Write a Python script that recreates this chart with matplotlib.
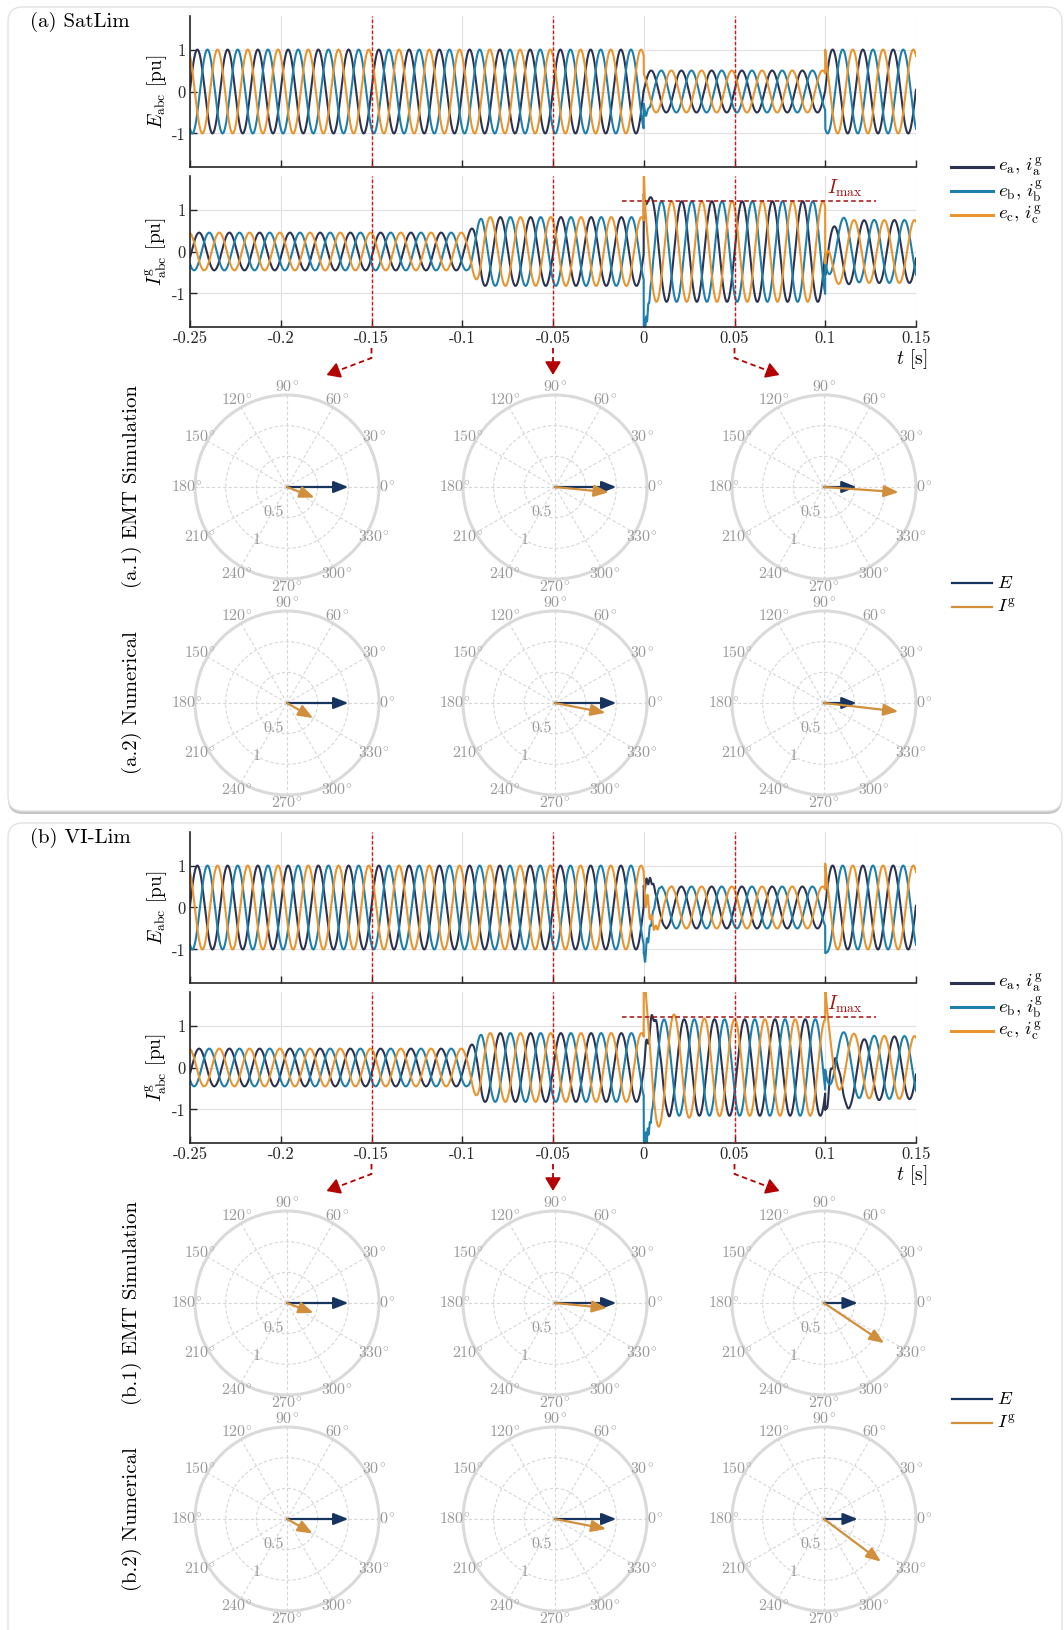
import numpy as np
import matplotlib
matplotlib.use('Agg')
import matplotlib.pyplot as plt
from matplotlib.patches import FancyBboxPatch, FancyArrowPatch
from matplotlib.lines import Line2D

plt.rcParams['font.family'] = ['cmr10', 'DejaVu Serif']
plt.rcParams['mathtext.fontset'] = 'cm'
plt.rcParams['axes.unicode_minus'] = False
plt.rcParams['axes.formatter.use_mathtext'] = False

W, H = 1064, 1630

# ---- signal data (60 Hz three-phase, amplitude / angle per segment) ----
F_HZ = 60
T_REF = -0.0015
PHASE_OFF = [-120, 120, 0]          # a, b, c
WAVE_COLORS = ['#2c3350', '#1f7fab', '#e8942f']
WAVE_LABELS = [r'$e_\mathrm{a},\,i_\mathrm{a}^\mathrm{g}$',
               r'$e_\mathrm{b},\,i_\mathrm{b}^\mathrm{g}$',
               r'$e_\mathrm{c},\,i_\mathrm{c}^\mathrm{g}$']

# panel (a) SatLim
A_E_EDGES = [-0.25, 0.0, 0.1, 0.15]
A_E_AMP = [1.0, 0.5, 1.0]
A_E_ANG = [0, 0, 0]
A_E_RAMP = [0, 0]
A_E_TRANS = [[],
             [(0.0, 0.15, 0.002, 400, 0)],
             [(0.1, 0.15, 0.0005, 0, 0)]]
A_I_EDGES = [-0.25, -0.097, 0.0, 0.1, 0.15]
A_I_AMP = [0.45, 0.82, 1.2, 0.75]
A_I_ANG = [-21, -6, -4, -15]
A_I_RAMP = [0.008, 0, 0]
A_I_TRANS = [[(0.0, 1.4, 0.0015, 0, 0), (0.1, -0.4, 0.005, 0, 0)],
             [(0.0, -1.2, 0.0015, 0, 0), (0.0, 0.3, 0.002, 800, 0), (0.1, 0.3, 0.006, 0, 0)],
             [(0.0, 1.0, 0.0006, 0, 0), (0.1, -1.0, 0.002, 0, 0)]]

# panel (b) VI-Lim
B_E_EDGES = [-0.25, 0.0, 0.1, 0.15]
B_E_AMP = [1.0, 0.5, 1.0]
B_E_ANG = [0, 0, 0]
B_E_RAMP = [0, 0]
B_E_TRANS = [[(0.0, 0.5, 0.003, 0, 0), (0.0, 0.15, 0.004, 500, 90)],
             [(0.0, -0.9, 0.002, 0, 0), (0.0, 0.25, 0.003, 600, 0), (0.1, -0.2, 0.001, 0, 0)],
             [(0.0, 0.35, 0.004, 450, 0), (0.1, 0.2, 0.0006, 0, 0)]]
B_I_EDGES = [-0.25, -0.097, 0.0, 0.1, 0.15]
B_I_AMP = [0.45, 0.82, 1.15, 0.75]
B_I_ANG = [-21, -5.5, -34, -15]
B_I_RAMP = [0.008, 0, 0]
B_I_TRANS = [[(0.0, 0.9, 0.002, 0, 0), (0.0, -0.3, 0.005, 350, 0),
              (0.1, -1.1, 0.008, 0, 0), (0.1, 0.25, 0.004, 350, 0)],
             [(0.0, -1.6, 0.0018, 0, 0), (0.0, 0.4, 0.002, 900, 0), (0.1, 0.5, 0.006, 0, 0)],
             [(0.0, 0.9, 0.0008, 0, 0), (0.0, 0.6, 0.01, 60, 0),
              (0.1, 0.5, 0.0008, 0, 0), (0.1, 0.8, 0.006, 0, 0)]]

TIME_TICKS = [-0.25, -0.2, -0.15, -0.1, -0.05, 0, 0.05, 0.1, 0.15]
TIME_TICK_LABELS = ['-0.25', '-0.2', '-0.15', '-0.1', '-0.05', '0', '0.05', '0.1', '0.15']
Y_TICKS = [-1, 0, 1]
Y_TICK_LABELS = ['-1', '0', '1']
MARK_TIMES = [-0.15, -0.05, 0.05]
I_MAX = 1.2

# ---- phasor data (E at 0 deg, I^g magnitude / angle) ----
A1_E = [1.0, 1.0, 0.53]
A1_I = [0.48, 0.88, 1.22]
A1_ANG = [-21, -5.7, -4]
A2_E = [1.0, 1.0, 0.53]
A2_I = [0.49, 0.84, 1.22]
A2_ANG = [-30, -11, -6.5]
B1_E = [1.0, 1.0, 0.55]
B1_I = [0.46, 0.85, 1.18]
B1_ANG = [-20.5, -5.5, -33.7]
B2_E = [1.0, 1.0, 0.55]
B2_I = [0.48, 0.85, 1.16]
B2_ANG = [-29.5, -11, -36.8]
THETA_DEGS = list(range(0, 360, 30))
R_TICKS = [0.5, 1.0]
R_TICK_LABELS = ['0.5', '1']

E_COLOR = '#17335f'
I_COLOR = '#d18f3c'
RED = '#c81818'
DARKRED = '#a51010'
GRAYTXT = '#999999'


def three_phase(t, edges, amps, angs, ramps, trans):
    amp = np.full_like(t, amps[0])
    ang = np.full_like(t, float(angs[0]))
    for k in range(1, len(amps)):
        e = edges[k]
        r = ramps[k - 1]
        if r > 0:
            w = np.clip((t - e) / r, 0, 1)
        else:
            w = (t >= e).astype(float)
        amp += w * (amps[k] - amps[k - 1])
        ang += w * (angs[k] - angs[k - 1])
    theta = 2 * np.pi * F_HZ * (t - T_REF) + np.deg2rad(ang)
    out = []
    for p, off in enumerate(PHASE_OFF):
        y = amp * np.cos(theta + np.deg2rad(off))
        for (t0, a0, tau, f, ph) in trans[p]:
            m = t >= t0
            dt = t[m] - t0
            y[m] += a0 * np.exp(-dt / tau) * np.cos(2 * np.pi * f * dt + np.deg2rad(ph))
        out.append(y)
    return out


def rect(x0, y0, x1, y1):
    return [x0 / W, 1 - y1 / H, (x1 - x0) / W, (y1 - y0) / H]


def P(x, y):
    # pixel (from top-left) -> inches for dpi_scale_trans
    return (x / 100.0, (H - y) / 100.0)


fig = plt.figure(figsize=(W / 100, H / 100), dpi=100)
fig.patch.set_facecolor('white')
inch = fig.dpi_scale_trans

# panel boxes
for (y0, y1) in [(7, 811), (823, 1660)]:
    sh = FancyBboxPatch(P(8, y1 + 3), (1054) / 100, (y1 - y0) / 100,
                        boxstyle='round,pad=0,rounding_size=0.15',
                        transform=inch, fc='#c4c4c4', ec='none', zorder=0)
    bx = FancyBboxPatch(P(8, y1), (1054) / 100, (y1 - y0) / 100,
                        boxstyle='round,pad=0,rounding_size=0.15',
                        transform=inch, fc='white', ec='#e2e2e2', lw=1, zorder=0)
    fig.add_artist(sh)
    fig.add_artist(bx)

t = np.linspace(-0.25, 0.15, 8001)

AX_L, AX_R = 190, 916

panels = [
    dict(off=0, title='(a) SatLim', tag='a',
         E=(A_E_EDGES, A_E_AMP, A_E_ANG, A_E_RAMP, A_E_TRANS),
         I=(A_I_EDGES, A_I_AMP, A_I_ANG, A_I_RAMP, A_I_TRANS),
         rows=[(A1_E, A1_I, A1_ANG), (A2_E, A2_I, A2_ANG)]),
    dict(off=816, title='(b) VI-Lim', tag='b',
         E=(B_E_EDGES, B_E_AMP, B_E_ANG, B_E_RAMP, B_E_TRANS),
         I=(B_I_EDGES, B_I_AMP, B_I_ANG, B_I_RAMP, B_I_TRANS),
         rows=[(B1_E, B1_I, B1_ANG), (B2_E, B2_I, B2_ANG)]),
]

ROW_NAMES = ['EMT Simulation', 'Numerical']
POLAR_X = [287, 555, 824]
POLAR_Y = [487, 703]
R_PX = 92


def t_to_px(tv):
    return AX_L + (tv - TIME_TICKS[0]) / (TIME_TICKS[-1] - TIME_TICKS[0]) * (AX_R - AX_L)


def style_time_ax(ax, show_labels):
    ax.set_xlim(TIME_TICKS[0], TIME_TICKS[-1])
    ax.set_ylim(-1.8, 1.8)
    ax.set_xticks(TIME_TICKS)
    ax.set_yticks(Y_TICKS)
    ax.set_yticklabels(Y_TICK_LABELS)
    if show_labels:
        ax.set_xticklabels(TIME_TICK_LABELS)
    else:
        ax.set_xticklabels([])
    ax.grid(True, color='#e2e2e2', lw=0.9)
    ax.set_axisbelow(True)
    for s in ['top', 'right']:
        ax.spines[s].set_visible(False)
    for s in ['left', 'bottom']:
        ax.spines[s].set_color('#262626')
        ax.spines[s].set_linewidth(1.2)
    ax.tick_params(direction='in', length=5, width=1, pad=3, labelsize=12, colors='#262626')
    for tm in MARK_TIMES:
        ax.axvline(tm, color=RED, lw=1.0, ls=(0, (2.5, 1.5)), zorder=3)


def style_polar(pax):
    pax.set_facecolor('none')
    pax.set_ylim(0, 1.5)
    pax.set_yticks(R_TICKS)
    pax.set_yticklabels([])
    pax.set_xticks(np.deg2rad(THETA_DEGS))
    pax.set_xticklabels([r'$%d^{\!\circ}$' % d for d in THETA_DEGS])
    pax.grid(True, color='#d6d6d6', lw=0.8, ls=(0, (3, 2)))
    pax.spines['polar'].set_color('#dadada')
    pax.spines['polar'].set_linewidth(2.2)
    pax.spines['polar'].set_zorder(0.5)
    pax.tick_params(axis='x', labelsize=11.5, labelcolor=GRAYTXT, length=0, pad=-1)
    pax.tick_params(axis='y', length=0)
    # radial tick labels along ~240 deg
    for rv, lab, ang, rr in zip(R_TICKS, R_TICK_LABELS, [242, 240], [0.46, 1.0]):
        pax.text(np.deg2rad(ang), rr, lab, fontsize=11.5,
                 color=GRAYTXT, ha='center', va='center')


for pn in panels:
    o = pn['off']
    fig.text(*P(30, 22 + o), pn['title'], transform=inch, fontsize=15, va='center', ha='left')

    ax1 = fig.add_axes(rect(AX_L, 16 + o, AX_R, 167 + o))
    ax2 = fig.add_axes(rect(AX_L, 176 + o, AX_R, 327 + o))
    ee = three_phase(t, *pn['E'])
    ii = three_phase(t, *pn['I'])
    for k in range(3):
        ax1.plot(t, ee[k], color=WAVE_COLORS[k], lw=1.5, zorder=2)
        ax2.plot(t, ii[k], color=WAVE_COLORS[k], lw=1.5, zorder=2)
    style_time_ax(ax1, False)
    style_time_ax(ax2, True)
    ax1.set_ylabel(r'$E_\mathrm{abc}$ [pu]', fontsize=14, labelpad=2)
    ax2.set_ylabel(r'$I^\mathrm{g}_\mathrm{abc}$ [pu]', fontsize=14, labelpad=2)
    ax2.plot([-0.012, 0.128], [I_MAX, I_MAX], color=DARKRED, lw=1.1, ls=(0, (3, 2)), zorder=4)
    ax2.text(0.101, I_MAX + 0.04, r'$I_\mathrm{max}$', color=DARKRED, fontsize=14,
             ha='left', va='bottom')
    fig.text(*P(928, 359 + o), r'$t$ [s]', transform=inch, fontsize=14, ha='right', va='center')

    # legend for waveforms
    for k in range(3):
        yy = 167 + 24 * k + o
        fig.add_artist(Line2D([P(951, yy)[0], P(993, yy)[0]], [P(951, yy)[1]] * 2,
                              transform=inch, color=WAVE_COLORS[k], lw=2.2))
        fig.text(*P(998, yy), WAVE_LABELS[k], transform=inch, fontsize=13.5, va='center')

    # connectors from time axes to phasor plots
    for j, tm in enumerate(MARK_TIMES):
        tx = t_to_px(tm)
        if j == 0:
            pts = [(tx, 348 + o), (tx, 358 + o), (tx - 45, 375 + o)]
        elif j == 1:
            pts = [(tx, 348 + o), (tx, 375 + o)]
        else:
            pts = [(tx, 348 + o), (tx, 358 + o), (tx + 45, 375 + o)]
        (xa, ya), (xb, yb) = pts[-2], pts[-1]
        L = np.hypot(xb - xa, yb - ya)
        xm, ym = xb - (xb - xa) * 11 / L, yb - (yb - ya) * 11 / L
        line_pts = pts[:-1] + [(xm, ym)]
        xs = [P(*q)[0] for q in line_pts]
        ys = [P(*q)[1] for q in line_pts]
        fig.add_artist(Line2D(xs, ys, transform=inch, color='#b30000', lw=1.3,
                              ls=(0, (3, 2))))
        fig.add_artist(FancyArrowPatch(P(xm, ym), P(xb, yb), transform=inch,
                                       arrowstyle='-|>,head_length=0.5,head_width=0.3',
                                       mutation_scale=16, color='#b30000', lw=1.3,
                                       shrinkA=0, shrinkB=0))

    # phasor rows
    for r, (e_mag, i_mag, i_ang) in enumerate(pn['rows']):
        cy = POLAR_Y[r] + o
        fig.text(*P(132, cy), '(%s.%d) %s' % (pn['tag'], r + 1, ROW_NAMES[r]),
                 transform=inch, fontsize=15, rotation=90, ha='center', va='center')
        for c in range(3):
            cx = POLAR_X[c]
            pax = fig.add_axes(rect(cx - R_PX, cy - R_PX, cx + R_PX, cy + R_PX),
                               projection='polar')
            style_polar(pax)
            pax.annotate('', xy=(0.0, e_mag[c]), xytext=(0, 0),
                         arrowprops=dict(arrowstyle='-|>,head_length=0.55,head_width=0.22',
                                         mutation_scale=16, color=E_COLOR, lw=1.6,
                                         shrinkA=0, shrinkB=0))
            pax.annotate('', xy=(np.deg2rad(i_ang[c]), i_mag[c]), xytext=(0, 0),
                         arrowprops=dict(arrowstyle='-|>,head_length=0.55,head_width=0.22',
                                         mutation_scale=16, color=I_COLOR, lw=1.6,
                                         shrinkA=0, shrinkB=0))

    # phasor legend
    for k, (lab, col) in enumerate([(r'$E$', E_COLOR), (r'$I^\mathrm{g}$', I_COLOR)]):
        yy = 583 + 24 * k + o
        fig.add_artist(Line2D([P(952, yy)[0], P(992, yy)[0]], [P(952, yy)[1]] * 2,
                              transform=inch, color=col, lw=1.6))
        fig.text(*P(997, yy), lab, transform=inch, fontsize=13.5, va='center')

fig.savefig('out.png', dpi=100)
